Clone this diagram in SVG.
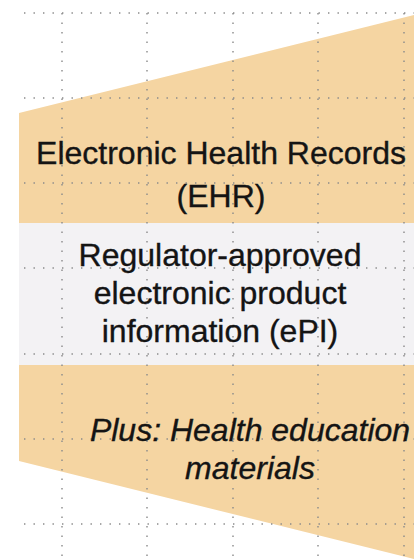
<svg xmlns="http://www.w3.org/2000/svg" width="414" height="559" viewBox="0 0 414 559">
  <style>
    .grid line { stroke: #8a8a8a; stroke-width: 1.4; stroke-dasharray: 1.4 8.1; fill: none; }
    .lbl { font-family: "Liberation Sans", Arial, sans-serif; font-size: 32px; fill: #141414; stroke: #141414; stroke-width: 0.35; text-anchor: middle; }
    .it { font-style: italic; }
  </style>
  <rect x="0" y="0" width="414" height="559" fill="#ffffff"/>
  <g id="funnel">
    <polygon points="19,113 414,15 414,559 19,461" fill="#F5D5A2"/>
    <rect id="epi-band" x="19" y="223" width="395" height="142" fill="#F3F2F4"/>
  </g>
  <g class="grid" id="grid">
    <line x1="24" y1="13" x2="414" y2="13"/>
    <line x1="24" y1="98" x2="414" y2="98"/>
    <line x1="24" y1="183" x2="414" y2="183"/>
    <line x1="24" y1="268" x2="414" y2="268"/>
    <line x1="24" y1="354" x2="414" y2="354"/>
    <line x1="24" y1="439" x2="414" y2="439"/>
    <line x1="24" y1="524" x2="414" y2="524"/>
    <line x1="62" y1="13" x2="62" y2="559"/>
    <line x1="147" y1="13" x2="147" y2="559"/>
    <line x1="233" y1="13" x2="233" y2="559"/>
    <line x1="318" y1="13" x2="318" y2="559"/>
    <line x1="404" y1="13" x2="404" y2="559"/>
  </g>
  <g id="ehr">
    <text class="lbl" x="221" y="164">Electronic Health Records</text>
    <text class="lbl" x="221" y="207">(EHR)</text>
  </g>
  <g id="epi">
    <text class="lbl" x="220" y="266">Regulator-approved</text>
    <text class="lbl" x="220" y="304">electronic product</text>
    <text class="lbl" x="220" y="342">information (ePI)</text>
  </g>
  <g id="education">
    <text class="lbl it" x="250" y="441">Plus: Health education</text>
    <text class="lbl it" x="250" y="479">materials</text>
  </g>
</svg>
